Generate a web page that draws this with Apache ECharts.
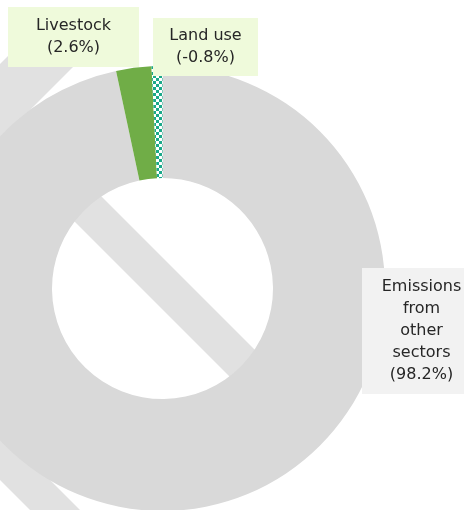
<!DOCTYPE html>
<html><head><meta charset="utf-8">
<script src="https://cdn.jsdelivr.net/npm/echarts@6/dist/echarts.min.js"></script>
<style>html,body{margin:0;padding:0;background:#fff}#c{width:464px;height:510px}</style>
</head><body><div id="c"></div>
<script>
// ---- data ----
const categories = ['Emissions from other sectors', 'Livestock', 'Land use'];
const shares = [98.2, 2.6, -0.8];   // percent, as labelled

// ---- styles ----
function checker() {
  const c = document.createElement('canvas');
  c.width = 6; c.height = 6;
  const g = c.getContext('2d');
  g.fillStyle = '#ffffff'; g.fillRect(0, 0, 6, 6);
  g.fillStyle = '#1ba98a'; g.fillRect(0, 0, 3, 3); g.fillRect(3, 3, 3, 3);
  return c;
}
const sliceColors = ['#d9d9d9', '#70ad47', { image: checker(), repeat: 'repeat' }];
const labelBoxes = [
  { cx: 421.5, top: 268, width: 103, padding: [8, 8], bg: '#f2f2f2' },
  { cx: 73.5, top: 7, width: 115, padding: [8, 8], bg: '#effadb' },
  { cx: 205.5, top: 18, width: 89, padding: [7, 8], bg: '#effadb' }
];

const chart = echarts.init(document.getElementById('c'), null, { renderer: 'canvas' });

const pieData = categories.map((name, i) => ({
  name: name,
  value: Math.abs(shares[i]),
  itemStyle: { color: sliceColors[i] },
  label: {
    width: labelBoxes[i].width,
    padding: labelBoxes[i].padding,
    backgroundColor: labelBoxes[i].bg
  }
}));

chart.setOption({
  animation: false,
  graphic: [
    { type: 'polygon', z: 0, silent: true, shape: { points: [[-60, 35], [290, 385], [290, 437], [-60, 87]] }, style: { fill: '#e1e1e1' } },
    { type: 'polygon', z: 0, silent: true, shape: { points: [[0, 64], [57, 7], [133, 7], [0, 140]] }, style: { fill: '#e1e1e1' } },
    { type: 'polygon', z: 0, silent: true, shape: { points: [[-20, 410], [100, 530], [100, 580], [-20, 460]] }, style: { fill: '#e1e1e1' } }
  ],
  series: [{
    type: 'pie',
    z: 5,
    center: [162.5, 288.5],
    radius: [110.5, 222.5],
    startAngle: 90,
    clockwise: true,
    avoidLabelOverlap: false,
    silent: true,
    itemStyle: { borderWidth: 0 },
    emphasis: { disabled: true },
    labelLine: { show: false },
    label: {
      show: true,
      position: 'outside',
      fontFamily: 'DejaVu Sans',
      fontSize: 16,
      lineHeight: 22,
      color: '#262626',
      align: 'center',
      formatter: function (p) {
        const nm = p.dataIndex === 0 ? p.name.split(' ').join('\n') : p.name;
        return nm + '\n(' + shares[p.dataIndex].toFixed(1) + '%)';
      }
    },
    labelLayout: function (p) {
      const b = labelBoxes[p.dataIndex];
      return { x: b.cx, y: b.top, align: 'center', verticalAlign: 'top' };
    },
    data: pieData
  }]
});
</script></body></html>
